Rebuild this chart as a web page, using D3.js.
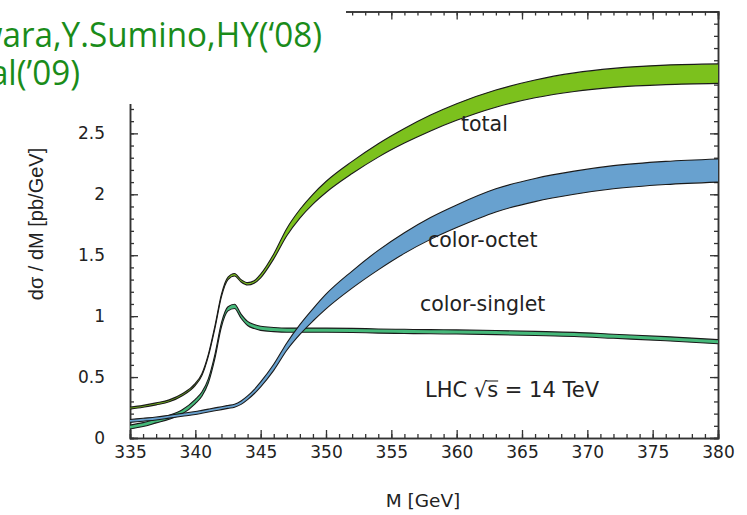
<!DOCTYPE html>
<html>
<head>
<meta charset="utf-8">
<script src="https://cdn.jsdelivr.net/npm/d3@7"></script>
<style>
  html, body { margin: 0; padding: 0; background: #fff; }
  svg { display: block; }
</style>
</head>
<body>
<div id="chart"></div>
<script>
// invariant mass grid (GeV)
const mass = [335, 336, 337, 338, 339, 340, 340.5, 341, 341.5, 342, 342.5, 343, 343.5, 344, 344.5, 345,
  346, 347, 348, 349, 350, 352, 354, 356, 358, 360, 363, 366, 369, 372, 376, 380];

// dσ/dM bands [pb/GeV], lower and upper edges
const totalLo = [0.237, 0.252, 0.272, 0.297, 0.347, 0.432, 0.512, 0.672, 0.90, 1.16, 1.30, 1.33, 1.28, 1.255, 1.27, 1.315,
  1.47, 1.66, 1.805, 1.92, 2.015, 2.17, 2.305, 2.42, 2.52, 2.607, 2.715, 2.792, 2.844, 2.877, 2.90, 2.91];
const totalHi = [0.253, 0.268, 0.288, 0.313, 0.363, 0.448, 0.528, 0.688, 0.92, 1.18, 1.32, 1.35, 1.30, 1.275, 1.29, 1.345,
  1.51, 1.72, 1.875, 2.00, 2.105, 2.27, 2.415, 2.54, 2.65, 2.743, 2.855, 2.938, 2.996, 3.033, 3.06, 3.07];

const octetLo = [0.128, 0.138, 0.148, 0.163, 0.178, 0.193, 0.203, 0.213, 0.223, 0.233, 0.243, 0.253, 0.276, 0.315, 0.363, 0.42,
  0.555, 0.72, 0.85, 0.96, 1.06, 1.23, 1.38, 1.515, 1.63, 1.727, 1.855, 1.94, 2.00, 2.045, 2.08, 2.10];
const octetHi = [0.152, 0.162, 0.172, 0.187, 0.202, 0.217, 0.227, 0.237, 0.247, 0.257, 0.267, 0.277, 0.304, 0.345, 0.397, 0.46,
  0.605, 0.78, 0.93, 1.06, 1.18, 1.37, 1.54, 1.685, 1.81, 1.913, 2.045, 2.13, 2.19, 2.235, 2.27, 2.29];

const singletLo = [0.074, 0.094, 0.124, 0.154, 0.198, 0.283, 0.343, 0.453, 0.653, 0.913, 1.043, 1.063, 0.983, 0.923, 0.898, 0.883,
  0.873, 0.868, 0.868, 0.868, 0.868, 0.866, 0.861, 0.858, 0.855, 0.853, 0.848, 0.841, 0.833, 0.818, 0.798, 0.773];
const singletHi = [0.106, 0.126, 0.156, 0.186, 0.232, 0.317, 0.377, 0.487, 0.687, 0.947, 1.077, 1.097, 1.017, 0.957, 0.932, 0.917,
  0.907, 0.902, 0.902, 0.902, 0.902, 0.900, 0.895, 0.892, 0.889, 0.887, 0.882, 0.875, 0.867, 0.852, 0.832, 0.807];

const xMajor = d3.range(335, 381, 5);
const xMinor = d3.range(335, 381, 1);
const yMajor = [0, 0.5, 1, 1.5, 2, 2.5, 3];
const yMinor = d3.range(0, 3.51, 0.1);

const W = 747, H = 515;
const plot = { left: 130, right: 718, top: 11.5, bottom: 438 };

const svg = d3.select("#chart").append("svg")
  .attr("width", W)
  .attr("height", H);

const x = d3.scaleLinear().domain([335, 380]).range([plot.left, plot.right]);
const y = d3.scaleLinear().domain([0, 3.5]).range([plot.bottom, plot.top]);

const axisColor = "#333";
const tickFont = "17px 'DejaVu Sans', sans-serif";

function styleAxis(g) {
  g.select(".domain").attr("stroke", axisColor).attr("stroke-width", 1.5);
  g.selectAll(".tick line").attr("stroke", axisColor).attr("stroke-width", 1.3);
  g.selectAll(".tick text").attr("fill", "#222").style("font", tickFont);
}

// bottom / top axes (ticks point inward)
svg.append("g").attr("transform", `translate(0,${plot.bottom})`)
  .call(d3.axisBottom(x).tickValues(xMinor).tickSize(-4).tickFormat(""))
  .call(styleAxis);
svg.append("g").attr("transform", `translate(0,${plot.bottom})`)
  .call(d3.axisBottom(x).tickValues(xMajor).tickSize(-8).tickPadding(8).tickFormat(d3.format("d")))
  .call(styleAxis);
svg.append("g").attr("transform", `translate(0,${plot.top})`)
  .call(d3.axisTop(x).tickValues(xMinor).tickSize(-4).tickFormat(""))
  .call(styleAxis);
svg.append("g").attr("transform", `translate(0,${plot.top})`)
  .call(d3.axisTop(x).tickValues(xMajor).tickSize(-8).tickFormat(""))
  .call(styleAxis);

// left / right axes
svg.append("g").attr("transform", `translate(${plot.left},0)`)
  .call(d3.axisLeft(y).tickValues(yMinor).tickSize(-4).tickFormat(""))
  .call(styleAxis);
svg.append("g").attr("transform", `translate(${plot.left},0)`)
  .call(d3.axisLeft(y).tickValues(yMajor).tickSize(-8).tickPadding(25).tickFormat(d3.format("~g")))
  .call(styleAxis);
svg.append("g").attr("transform", `translate(${plot.right},0)`)
  .call(d3.axisRight(y).tickValues(yMinor).tickSize(-4).tickFormat(""))
  .call(styleAxis);
svg.append("g").attr("transform", `translate(${plot.right},0)`)
  .call(d3.axisRight(y).tickValues(yMajor).tickSize(-8).tickFormat(""))
  .call(styleAxis);

// bands
const bands = [
  { lo: singletLo, hi: singletHi, fill: "#46b97a" },
  { lo: octetLo, hi: octetHi, fill: "#68a1cf" },
  { lo: totalLo, hi: totalHi, fill: "#7cc11d" }
];

const area = d3.area()
  .x(d => x(d.m))
  .y0(d => y(d.lo))
  .y1(d => y(d.hi))
  .curve(d3.curveMonotoneX);

const edge = key => d3.line()
  .x(d => x(d.m))
  .y(d => y(d[key]))
  .curve(d3.curveMonotoneX);

const bandG = svg.append("g");
bands.forEach(b => {
  const pts = mass.map((m, i) => ({ m, lo: b.lo[i], hi: b.hi[i] }));
  bandG.append("path").datum(pts)
    .attr("d", area)
    .attr("fill", b.fill);
  ["lo", "hi"].forEach(k => {
    bandG.append("path").datum(pts)
      .attr("d", edge(k))
      .attr("fill", "none")
      .attr("stroke", "#1a1a1a")
      .attr("stroke-width", 1.1);
  });
});

// in-plot labels
const labelFont = "20.5px 'DejaVu Sans', sans-serif";
svg.append("text").attr("x", 461).attr("y", 131).style("font", labelFont).attr("fill", "#222").text("total");
svg.append("text").attr("x", 428).attr("y", 247).style("font", labelFont).attr("fill", "#222").text("color-octet");
svg.append("text").attr("x", 420).attr("y", 311).style("font", labelFont).attr("fill", "#222").text("color-singlet");

const lhcY = 397;
const lhc = svg.append("text").attr("x", 425).attr("y", lhcY).style("font", "21px 'DejaVu Sans', sans-serif").attr("fill", "#222")
  .text("LHC \u221As = 14 TeV");
const n = lhc.node();
const sx0 = n.getStartPositionOfChar(5).x;
const sx1 = n.getEndPositionOfChar(5).x;
svg.append("line")
  .attr("x1", sx0 - 1).attr("x2", sx1)
  .attr("y1", lhcY - 16).attr("y2", lhcY - 16)
  .attr("stroke", "#222").attr("stroke-width", 1.1);

// axis titles
svg.append("text")
  .attr("x", 423).attr("y", 507)
  .attr("text-anchor", "middle")
  .style("font", "18.5px 'DejaVu Sans', sans-serif")
  .attr("fill", "#222")
  .text("M [GeV]");

svg.append("text")
  .attr("transform", "rotate(-90)")
  .attr("x", -224).attr("y", 43)
  .attr("text-anchor", "middle")
  .style("font", "20px 'Liberation Sans', Arial, sans-serif")
  .attr("fill", "#222")
  .text("d\u03C3 / dM [pb/GeV]");

// citation box pasted over the top-left corner
svg.append("rect")
  .attr("x", 0).attr("y", 0)
  .attr("width", 346).attr("height", 104)
  .attr("fill", "#fff");

const citeFont = "35px 'Open Sans', 'Noto Sans', sans-serif";
svg.append("text")
  .attr("transform", "translate(322,47) scale(0.95,1)")
  .attr("text-anchor", "end")
  .style("font", citeFont)
  .attr("fill", "#1a8c1a")
  .text("K.Hagiwara,Y.Sumino,HY(\u201808)");
svg.append("text")
  .attr("transform", "translate(80,85) scale(0.95,1)")
  .attr("text-anchor", "end")
  .style("font", citeFont)
  .attr("fill", "#1a8c1a")
  .text("Y.Kiyo et al(\u201909)");
</script>
</body>
</html>
